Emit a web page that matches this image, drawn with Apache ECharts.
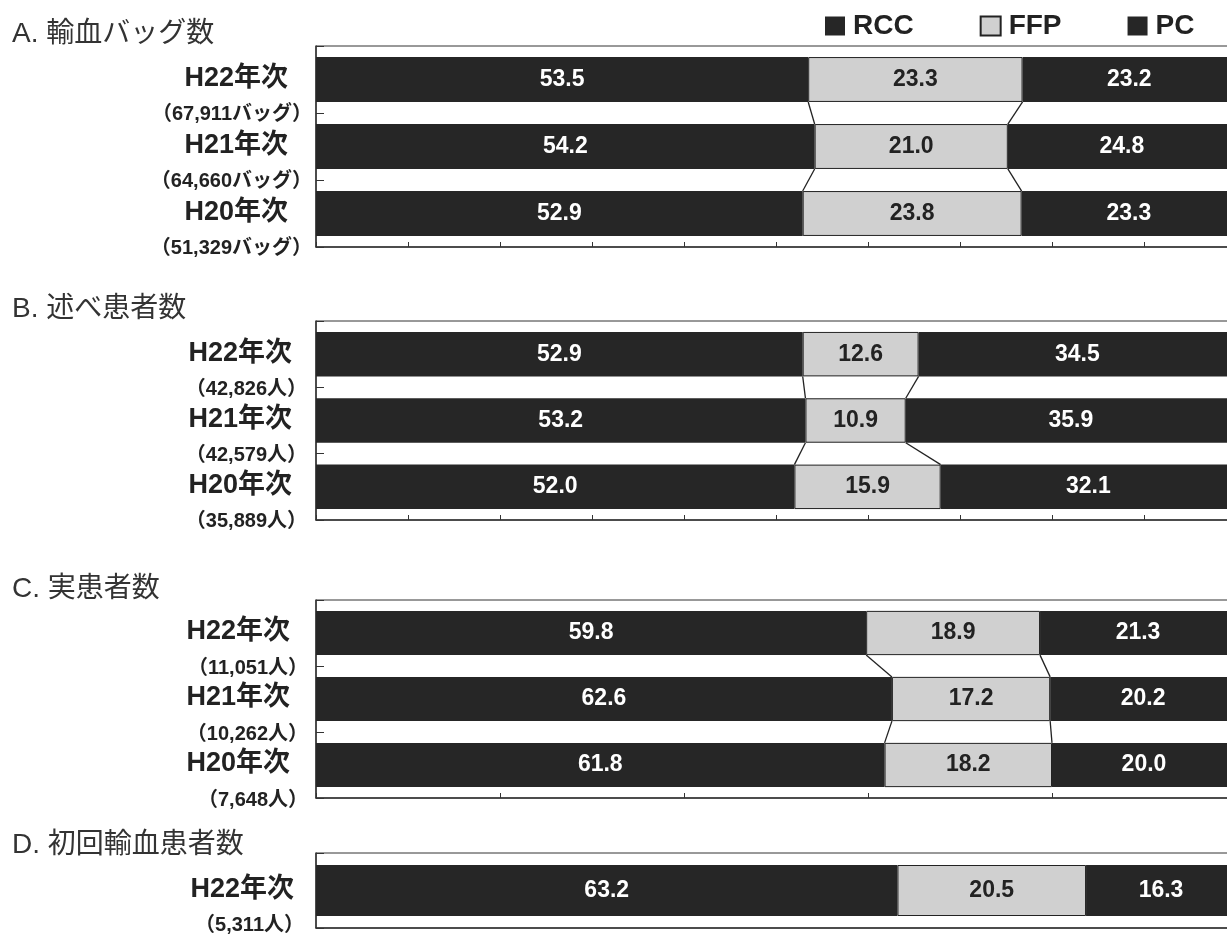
<!DOCTYPE html>
<html>
<head>
<meta charset="utf-8">
<script src="https://cdn.jsdelivr.net/npm/echarts@6.0.0/dist/echarts.min.js"></script>
<style>
  html, body { margin: 0; padding: 0; background: #fff; overflow: hidden; }
  #chart { width: 1240px; height: 941px; }
</style>
</head>
<body>
<div id="chart"></div>
<script>
// カテゴリ
const years3 = ['H22年次', 'H21年次', 'H20年次'];
const years1 = ['H22年次'];

// A. 輸血バッグ数
const bagCounts = ['（67,911バッグ）', '（64,660バッグ）', '（51,329バッグ）'];
const bagRCC = [53.5, 54.2, 52.9];
const bagFFP = [23.3, 21.0, 23.8];
const bagPC = [23.2, 24.8, 23.3];

// B. 述べ患者数
const totalCounts = ['（42,826人）', '（42,579人）', '（35,889人）'];
const totalRCC = [52.9, 53.2, 52.0];
const totalFFP = [12.6, 10.9, 15.9];
const totalPC = [34.5, 35.9, 32.1];

// C. 実患者数
const realCounts = ['（11,051人）', '（10,262人）', '（7,648人）'];
const realRCC = [59.8, 62.6, 61.8];
const realFFP = [18.9, 17.2, 18.2];
const realPC = [21.3, 20.2, 20.0];

// D. 初回輸血患者数
const firstCounts = ['（5,311人）'];
const firstRCC = [63.2];
const firstFFP = [20.5];
const firstPC = [16.3];

const jpFont = "'Liberation Sans', 'Noto Sans CJK JP', sans-serif";
const dark = '#262626';
const light = '#d0d0d0';

// 図は右端が少し切れているので、描画領域は画面より広く取る
const panels = [
  { title: 'A. 輸血バッグ数', titleTop: 15, top: 46, height: 201, cats: years3, counts: bagCounts,
    rcc: bagRCC, ffp: bagFFP, pc: bagPC, tick: 10, labelMargin: 4, yearPad: 24, gap: 0.33 },
  { title: 'B. 述べ患者数', titleTop: 290, top: 321, height: 199, cats: years3, counts: totalCounts,
    rcc: totalRCC, ffp: totalFFP, pc: totalPC, tick: 10, labelMargin: 9, yearPad: 15, gap: 0.33 },
  { title: 'C. 実患者数', titleTop: 570, top: 600, height: 198, cats: years3, counts: realCounts,
    rcc: realRCC, ffp: realFFP, pc: realPC, tick: 20, labelMargin: 8, yearPad: 18, gap: 0.33 },
  { title: 'D. 初回輸血患者数', titleTop: 826, top: 853, height: 75, cats: years1, counts: firstCounts,
    rcc: firstRCC, ffp: firstFFP, pc: firstPC, tick: 0, labelMargin: 12, yearPad: 10, gap: 0.32 }
];

function linkData(rcc, ffp) {
  const out = [];
  for (let i = 0; i < rcc.length - 1; i++) {
    out.push([i, rcc[i], rcc[i] + ffp[i], rcc[i + 1], rcc[i + 1] + ffp[i + 1]]);
  }
  return out;
}

function makeLinkRenderer(gap) {
  return function (params, api) {
    const i = api.value(0);
    const band = api.size([0, 1])[1];
    const half = band * (1 - gap) / 2;
    const a1 = api.coord([api.value(1), i]);
    const b1 = api.coord([api.value(2), i]);
    const a2 = api.coord([api.value(3), i + 1]);
    const b2 = api.coord([api.value(4), i + 1]);
    const st = { stroke: '#222', lineWidth: 1.3 };
    return {
      type: 'group',
      children: [
        { type: 'line', shape: { x1: a1[0], y1: a1[1] + half, x2: a2[0], y2: a2[1] - half }, style: st },
        { type: 'line', shape: { x1: b1[0], y1: b1[1] + half, x2: b2[0], y2: b2[1] - half }, style: st }
      ]
    };
  };
}

function barLabel(color) {
  return {
    show: true,
    position: 'inside',
    color: color,
    fontSize: 23,
    fontWeight: 'bold',
    fontFamily: jpFont,
    formatter: (p) => p.value.toFixed(1)
  };
}

const titles = [];
const grids = [];
const xAxes = [];
const yAxes = [];
const series = [];

panels.forEach((p, k) => {
  titles.push({
    text: p.title,
    left: 7,
    top: p.titleTop,
    textStyle: { fontSize: 28, fontWeight: 'normal', color: '#333', fontFamily: jpFont }
  });
  grids.push({
    left: 316,
    right: 4,
    top: p.top,
    height: p.height,
    show: true,
    borderColor: '#333',
    borderWidth: 1
  });
  xAxes.push({
    gridIndex: k,
    type: 'value',
    min: 0,
    max: 100,
    interval: p.tick || 10,
    axisLabel: { show: false },
    splitLine: { show: false },
    axisLine: { show: true, lineStyle: { color: '#333', width: 1.5 } },
    axisTick: { show: p.tick > 0, inside: true, length: 5, lineStyle: { color: '#333' } }
  });
  const counts = p.counts;
  yAxes.push({
    gridIndex: k,
    type: 'category',
    inverse: true,
    data: p.cats,
    axisLine: { show: true, lineStyle: { color: '#333', width: 1.5 } },
    axisTick: { show: true, inside: true, length: 8, lineStyle: { color: '#333' } },
    axisLabel: {
      interval: 0,
      margin: p.labelMargin,
      formatter: (value, idx) => '{s| }\n{y|' + value + '}\n{c|' + counts[idx] + '}',
      rich: {
        s: { lineHeight: 36, fontSize: 10 },
        y: { lineHeight: 34, fontSize: 27, fontWeight: 'bold', color: '#222', fontFamily: jpFont,
             padding: [0, p.yearPad, 0, 0] },
        c: { lineHeight: 38, fontSize: 20, fontWeight: 'bold', color: '#222', fontFamily: jpFont }
      }
    }
  });
  const barCommon = {
    type: 'bar',
    xAxisIndex: k,
    yAxisIndex: k,
    stack: 'total' + k,
    barCategoryGap: Math.round(p.gap * 100) + '%',
    silent: true
  };
  series.push(Object.assign({}, barCommon, {
    name: 'RCC', data: p.rcc, itemStyle: { color: dark }, label: barLabel('#fff')
  }));
  series.push(Object.assign({}, barCommon, {
    name: 'FFP', data: p.ffp, itemStyle: { color: light, borderColor: '#222', borderWidth: 1 },
    label: barLabel('#222')
  }));
  series.push(Object.assign({}, barCommon, {
    name: 'PC', data: p.pc, itemStyle: { color: dark }, label: barLabel('#fff')
  }));
  if (p.rcc.length > 1) {
    series.push({
      type: 'custom',
      xAxisIndex: k,
      yAxisIndex: k,
      silent: true,
      encode: { x: [1, 2, 3, 4], y: 0 },
      renderItem: makeLinkRenderer(p.gap),
      data: linkData(p.rcc, p.ffp),
      z: 5
    });
  }
});

const chart = echarts.init(document.getElementById('chart'));
chart.setOption({
  animation: false,
  backgroundColor: '#fff',
  title: titles,
  legend: {
    data: ['RCC', 'FFP', 'PC'],
    left: 820,
    top: 7,
    icon: 'rect',
    itemWidth: 20,
    itemHeight: 19,
    itemGap: 66,
    selectedMode: false,
    textStyle: { fontSize: 28, fontWeight: 'bold', color: '#222', fontFamily: jpFont, padding: [0, 0, 0, 3] }
  },
  grid: grids,
  xAxis: xAxes,
  yAxis: yAxes,
  series: series
});
</script>
</body>
</html>
